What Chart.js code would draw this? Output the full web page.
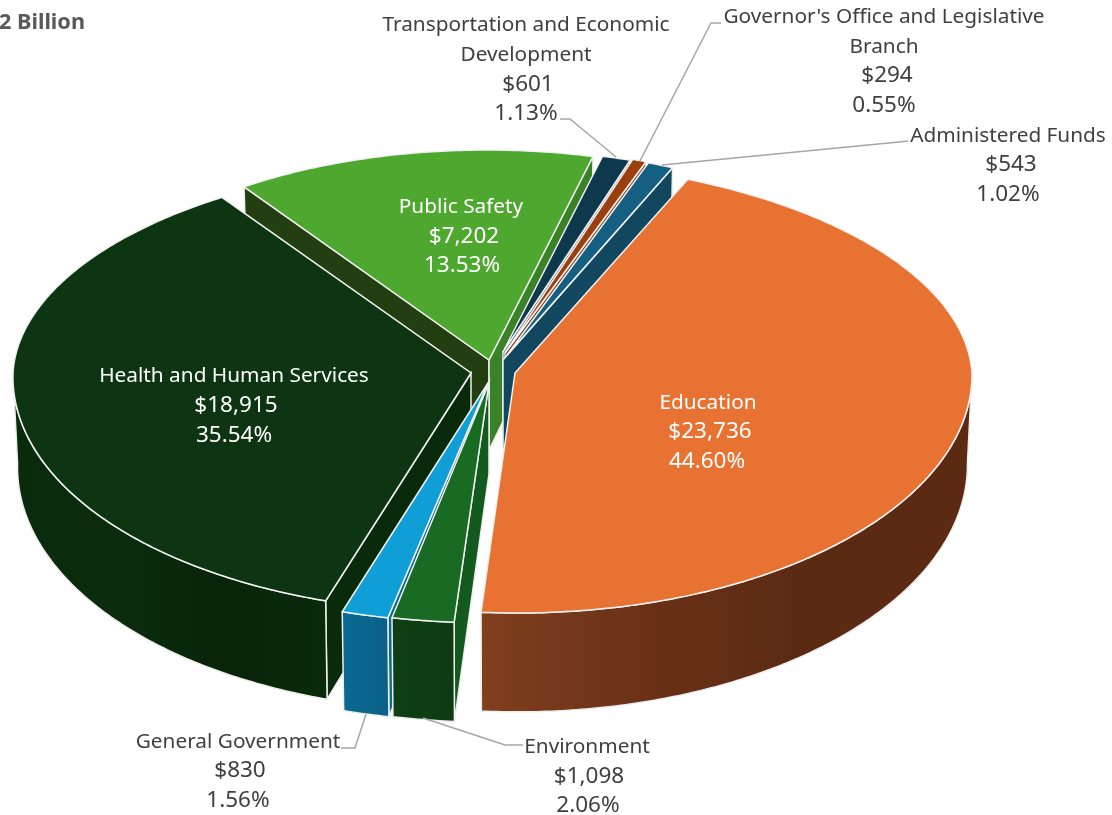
<!DOCTYPE html>
<html>
<head>
<meta charset="utf-8">
<style>
	html, body { margin: 0; padding: 0; background: #fff; overflow: hidden; }
	canvas { display: block; }
</style>
<script src="https://cdn.jsdelivr.net/npm/chart.js@4/dist/chart.umd.js"></script>
</head>
<body>
<canvas id="chart" width="1112" height="815"></canvas>
<script>
const categories = ['Education', 'Environment', 'General Government', 'Health and Human Services', 'Public Safety', 'Transportation and Economic Development', "Governor's Office and Legislative Branch", 'Administered Funds'];
const amounts = [23736, 1098, 830, 18915, 7202, 601, 294, 543];
const percents = ['44.60%', '2.06%', '1.56%', '35.54%', '13.53%', '1.13%', '0.55%', '1.02%'];
const chartTitle = '$53.2 Billion';

// Colores
const topColors = ['#E87231', '#196B24', '#0F9ED5', '#0E3512', '#4EA72E', '#0E394D', '#9C3F0E', '#156082'];
const wallColors = ['#5C2A13', '#14591E', '#0A6A92', '#0A2A0C', '#233F12', '#0B2F40', '#7C320B', '#114860'];
const wallRightColors = ['#5C2A13', '#14591E', '#0A6A92', '#0A2A0C', '#3A8228', '#0B2F40', '#7C320B', '#114860'];
const rimStops = [
	['#803F1D', '#6A3117', '#5B2A13', '#5C2A13'],
	['#0F3F15', '#0E3A13'],
	['#0A6A92', '#0A6088'],
	['#0A2A0C', '#0B2D0E', '#08240A', '#0A2A0C'],
	['#233F12'], ['#0B2F40'], ['#7C320B'], ['#114860']
];

// Desplazamiento de cada porción respecto al centro y radios en pantalla
const views = [
	{ dx: 25, dy: 8, rx: 457, far: 212, near: 240, kFar: 0.067, kNear: 0.01 },
	{ dx: -1, dy: 18, rx: 484, far: 240, near: 240, kFar: 0, kNear: 0.015 },
	{ dx: -2, dy: 18, rx: 482, far: 240, near: 240, kFar: 0, kNear: 0 },
	{ dx: -19, dy: 8, rx: 458, far: 213, near: 239, kFar: -0.057, kNear: -0.03 },
	{ dx: -1, dy: -5, rx: 430, far: 210, near: 210, kFar: 0.01, kNear: 0 },
	{ dx: 13, dy: -13, rx: 404, far: 202, near: 202, kFar: 0, kNear: 0 },
	{ dx: 15, dy: -12, rx: 406, far: 204, near: 204, kFar: 0, kNear: 0 },
	{ dx: 17, dy: -10, rx: 407, far: 205, near: 205, kFar: 0, kNear: 0, wall: { dx: 13, dy: -5 } }
];
const drawOrder = [4, 5, 6, 7, 3, 2, 1, 0];

const nameFont = '20.8px "Noto Sans"';
const numberFont = '22.5px "Noto Sans"';
const labels = [
	{ color: '#fff', lines: [[708, 403], [710, 432], [707, 462]] },
	{ color: '#404040', lines: [[587, 747], [589, 777], [588, 806]] },
	{ color: '#404040', lines: [[238, 742], [240, 771], [238, 801]] },
	{ color: '#fff', lines: [[234, 376], [236, 406], [234, 436]] },
	{ color: '#fff', lines: [[461, 207], [464, 237], [462, 266]] },
	{ color: '#404040', text: ['Transportation and Economic', 'Development'], lines: [[526, 25], [526, 55], [528, 85], [526, 114]] },
	{ color: '#404040', text: ["Governor's Office and Legislative", 'Branch'], lines: [[884, 17], [884, 47], [887, 76], [884, 106]] },
	{ color: '#404040', lines: [[1008, 136], [1011, 165], [1008, 195]] }
];
const leaders = [
	[[341, 748], [355, 748], [366, 714]],
	[[523, 745], [505, 745], [423, 718]],
	[[560, 119], [570, 119], [616, 157]],
	[[721, 23], [711, 23], [640, 161]],
	[[908, 141], [899, 142], [662, 165]]
];

const DEPTH = (y) => 90 + (y - 360) * 0.035;

function project(arc, view, angle, lowered) {
	const ax = arc.x + view.dx;
	const ay = arc.y + view.dy;
	const s = Math.sin(angle);
	const ry = s < 0 ? view.far : view.near;
	const k = s < 0 ? view.kFar : view.kNear;
	const y = ay + ry * s;
	const x = ax + view.rx * Math.cos(angle) + k * ry * s;
	if (!lowered) return [x, y];
	return [ax + (x - ax) * 0.99, y + DEPTH(y)];
}

function apexOf(arc, view, lowered) {
	const ax = arc.x + view.dx;
	const ay = arc.y + view.dy;
	return lowered ? [ax, ay + DEPTH(ay)] : [ax, ay];
}

function polygon(ctx, points, fill) {
	ctx.beginPath();
	points.forEach((p, i) => (i ? ctx.lineTo(p[0], p[1]) : ctx.moveTo(p[0], p[1])));
	ctx.closePath();
	ctx.fillStyle = fill;
	ctx.fill();
	ctx.lineWidth = 1.5;
	ctx.strokeStyle = '#EEEEEE';
	ctx.stroke();
}

function drawSlice(ctx, arc, i) {
	const view = views[i];
	const top = (a) => project(arc, view, a, false);
	const low = (a) => project(arc, view, a, true);
	let start = arc.startAngle;
	let end = arc.endAngle;
	// normaliza para que el rango frontal quede en 0..PI
	if (start > Math.PI * 1.5) { start -= Math.PI * 2; end -= Math.PI * 2; }

	if (Math.cos(start) < 0) {
		polygon(ctx, [apexOf(arc, view, false), top(start), low(start), apexOf(arc, view, true)], wallColors[i]);
	}
	if (Math.cos(end) > 0) {
		const inner = view.wall || view;
		polygon(ctx, [apexOf(arc, inner, false), top(end), low(end), apexOf(arc, inner, true)], wallRightColors[i]);
	}

	// Pared exterior: solo la parte frontal, ángulos entre 0 y PI
	const from = Math.max(start, 0);
	const to = Math.min(end, Math.PI);
	if (to > from) {
		const pts = [];
		const steps = Math.ceil((to - from) * 90);
		for (let s = 0; s <= steps; s++) pts.push(top(from + (to - from) * s / steps));
		for (let s = steps; s >= 0; s--) pts.push(low(from + (to - from) * s / steps));
		const xs = pts.map((p) => p[0]);
		const grad = ctx.createLinearGradient(Math.min(...xs), 0, Math.max(...xs), 0);
		const stops = rimStops[i];
		stops.forEach((c, n) => grad.addColorStop(stops.length > 1 ? n / (stops.length - 1) : 0, c));
		polygon(ctx, pts, grad);
	}

	// Cara superior: la dibuja el propio arco, una vez por mitad del óvalo
	const R = arc.outerRadius;
	const ax = arc.x + view.dx;
	const ay = arc.y + view.dy;
	[[view.far, view.kFar, 0, ay], [view.near, view.kNear, ay, 815 - ay]].forEach(([ry, k, y, h]) => {
		ctx.save();
		ctx.beginPath();
		ctx.rect(0, y, 1112, h);
		ctx.clip();
		ctx.transform(view.rx / R, 0, k * ry / R, ry / R, ax, ay);
		ctx.translate(-arc.x, -arc.y);
		arc.draw(ctx);
		ctx.restore();
	});

	// Contorno blanco
	const outline = [apexOf(arc, view, false)];
	const n = Math.max(4, Math.ceil((end - start) * 90));
	for (let s = 0; s <= n; s++) outline.push(top(start + (end - start) * s / n));
	ctx.beginPath();
	outline.forEach((p, j) => (j ? ctx.lineTo(p[0], p[1]) : ctx.moveTo(p[0], p[1])));
	ctx.closePath();
	ctx.lineWidth = 1.5;
	ctx.strokeStyle = '#F2F2F2';
	ctx.stroke();
}

const pie3d = {
	id: 'pie3d',
	beforeDatasetDraw(chart) {
		const ctx = chart.ctx;
		const arcs = chart.getDatasetMeta(0).data;
		ctx.save();
		drawOrder.forEach((i) => drawSlice(ctx, arcs[i], i));
		ctx.restore();
		return false;
	},
	afterDraw(chart) {
		const ctx = chart.ctx;
		ctx.save();

		ctx.strokeStyle = '#A6A6A6';
		ctx.lineWidth = 1.5;
		leaders.forEach((line) => {
			ctx.beginPath();
			line.forEach((p, i) => (i ? ctx.lineTo(p[0], p[1]) : ctx.moveTo(p[0], p[1])));
			ctx.stroke();
		});

		ctx.textAlign = 'center';
		ctx.textBaseline = 'middle';
		labels.forEach((label, i) => {
			const amount = '$' + amounts[i].toLocaleString('en-US');
			const names = label.text || [categories[i]];
			const rows = names.concat([amount, percents[i]]);
			ctx.fillStyle = label.color;
			rows.forEach((row, r) => {
				ctx.font = r < names.length ? nameFont : numberFont;
				ctx.fillText(row, label.lines[r][0], label.lines[r][1]);
			});
		});

		ctx.textAlign = 'right';
		ctx.font = 'bold 21.7px "Noto Sans"';
		ctx.fillStyle = '#595959';
		ctx.fillText(chartTitle, 85, 23);
		ctx.restore();
	}
};

const canvas = document.getElementById('chart');
new Chart(canvas, {
	type: 'pie',
	data: {
		labels: categories,
		datasets: [{ data: amounts, backgroundColor: topColors, borderWidth: 0 }]
	},
	options: {
		responsive: false,
		animation: false,
		rotation: 24,
		layout: { padding: { right: 132, bottom: 85 } },
		plugins: { legend: { display: false }, tooltip: { enabled: false } }
	},
	plugins: [pie3d]
});
</script>
</body>
</html>
